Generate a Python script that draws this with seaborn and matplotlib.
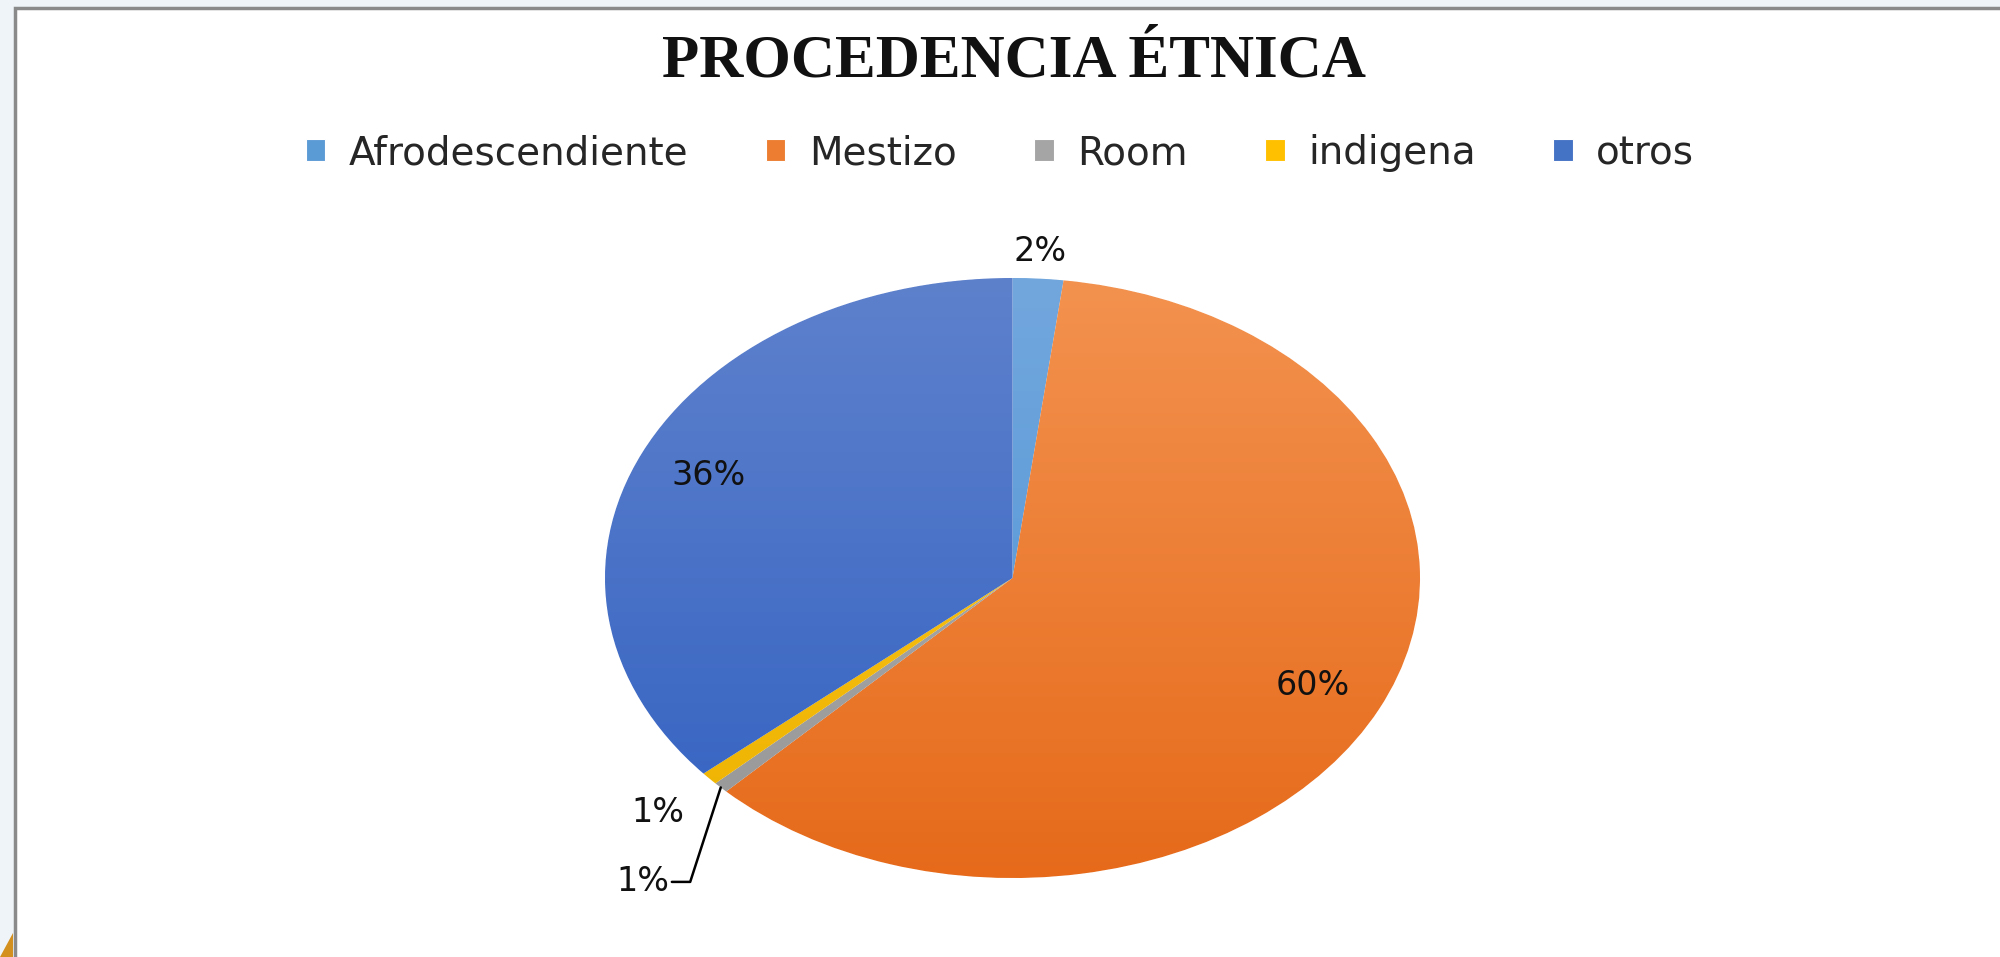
import numpy as np
import matplotlib.pyplot as plt
import seaborn as sns
from matplotlib.colors import LinearSegmentedColormap
from matplotlib.patches import Rectangle, Polygon

# data
categories = ['Afrodescendiente', 'Mestizo', 'Room', 'indigena', 'otros']
values = [2.0, 60.4, 0.6, 0.7, 36.3]
base_colors = ['#5B9BD5', '#ED7D31', '#A5A5A5', '#FFC000', '#4472C4']
top_colors = ['#72A7DD', '#F3924F', '#B2B2B2', '#FFC81F', '#5E81CC']
bottom_colors = ['#4D93D6', '#E66A1A', '#969696', '#EDB200', '#3362C2']

sns.set_theme(style='white')
plt.rcParams['font.family'] = ['DejaVu Sans']

fig = plt.figure(figsize=(20, 9.57), dpi=100)
fig.patch.set_facecolor('#EEF4F8')

# chart frame (only left and top edges visible)
fig.patches.append(Rectangle((0.0075, -0.1), 1.1, 1.092, transform=fig.transFigure,
                             facecolor='white', edgecolor='#8A8A8A', linewidth=2.5, zorder=-10))
fig.patches.append(Polygon([(0, 0), (0.0065, 0), (0.0065, 0.025)], closed=True,
                           transform=fig.transFigure, facecolor='#D4901F',
                           edgecolor='none', zorder=-9))

ax = fig.add_axes([605 / 2000, 79 / 957, 815 / 2000, 600 / 957])
ax.set_zorder(5)
ax.patch.set_alpha(0)
wedges, _ = ax.pie(values, colors=base_colors, startangle=90, counterclock=False,
                   radius=1, wedgeprops=dict(edgecolor='white', linewidth=0.8))
ax.set_aspect('auto')
ax.set_xlim(-1, 1)
ax.set_ylim(-1, 1)
ax.axis('off')

# vertical gradient shading in each slice
grad = np.linspace(0, 1, 256).reshape(-1, 1)
for w, c0, c1 in zip(wedges, bottom_colors, top_colors):
    cmap = LinearSegmentedColormap.from_list('g', [c0, c1])
    im = ax.imshow(grad, extent=(-1, 1, -1, 1), origin='lower', aspect='auto',
                   cmap=cmap, interpolation='bilinear', zorder=2)
    im.set_clip_path(w)

# data labels
lab_font = dict(fontsize=24, color='#111111', ha='center', va='center')
mids = [np.deg2rad((w.theta1 + w.theta2) / 2) for w in wedges]
radial = [1.09, 0.82, None, 1.17, 0.82]
for i, (v, m) in enumerate(zip(values, mids)):
    txt = f'{round(v)}%'
    if radial[i] is not None:
        ax.text(radial[i] * np.cos(m), radial[i] * np.sin(m), txt, zorder=5, **lab_font)
    else:
        ax_, ay_ = np.cos(m), np.sin(m)
        ex, ey = ax_ - 0.075, -1.013
        ax.plot([ax_, ex, ex - 0.045], [ay_, ey, ey], color='black', lw=1.8,
                clip_on=False, zorder=4)
        ax.text(ex - 0.05, ey, txt, zorder=5, **{**lab_font, 'ha': 'right'})

fig.text(0.507, 0.936, 'PROCEDENCIA ÉTNICA', ha='center', va='center',
         fontsize=44, fontweight='bold', family='Liberation Serif', color='#111111')

fig.legend(wedges, categories, loc='center', bbox_to_anchor=(0.5, 0.840), ncol=5,
           frameon=False, fontsize=28, handlelength=0.5, handleheight=0.5,
           handletextpad=0.6, columnspacing=2.0)

fig.savefig('out.png', dpi=100, facecolor=fig.get_facecolor())
